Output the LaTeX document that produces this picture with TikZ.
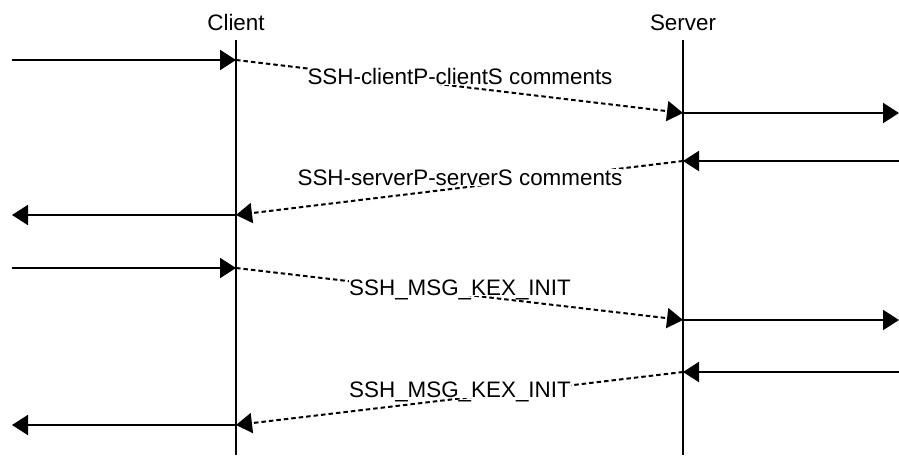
\documentclass[tikz,border=0pt]{standalone}
\usepackage{fontspec}
\setmainfont{Liberation Sans}
\usetikzlibrary{arrows.meta}
\tikzset{
  lbl/.style={inner sep=0pt, anchor=base, font=\fontsize{22.4}{26}\selectfont},
  msglbl/.style={lbl, fill=white, text depth=1pt},
  life/.style={line width=1.5pt, black},
  msg/.style={line width=2pt, -{Triangle[length=16pt,width=20pt]}},
  dsh/.style={line width=2pt, dash pattern=on 4.5pt off 3pt, -{Triangle[length=16pt,width=20pt]}}
}
\begin{document}
\begin{tikzpicture}[x=1pt,y=-1pt]
\useasboundingbox (0,0) rectangle (899,455);
% headers
\node[lbl] (client) at (236,30) {Client};
\node[lbl] (server) at (683,30) {Server};
% lifelines
\coordinate (ctop) at (236,40); \coordinate (cbot) at (236,455);
\coordinate (stop) at (683,40); \coordinate (sbot) at (683,455);
\draw[life] (ctop) -- (cbot);
\draw[life] (stop) -- (sbot);
% message 1
\coordinate (l1) at (12,60);  \coordinate (c1) at (236,60);
\coordinate (s1) at (683,113); \coordinate (r1) at (899,113);
\draw[msg] (l1) -- (c1);
\draw[dsh] (c1) -- (s1);
\draw[msg] (s1) -- (r1);
\node[msglbl] (t1) at (460,84) {SSH-clientP-clientS comments};
% message 2
\coordinate (r2) at (899,161); \coordinate (s2) at (683,161);
\coordinate (c2) at (236,215); \coordinate (l2) at (12,215);
\draw[msg] (r2) -- (s2);
\draw[dsh] (s2) -- (c2);
\draw[msg] (c2) -- (l2);
\node[msglbl] (t2) at (460,185) {SSH-serverP-serverS comments};
% message 3
\coordinate (l3) at (12,268);  \coordinate (c3) at (236,268);
\coordinate (s3) at (683,320); \coordinate (r3) at (899,320);
\draw[msg] (l3) -- (c3);
\draw[dsh] (c3) -- (s3);
\draw[msg] (s3) -- (r3);
\node[msglbl] (t3) at (460,295) {SSH\_MSG\_KEX\_INIT};
% message 4
\coordinate (r4) at (899,372); \coordinate (s4) at (683,372);
\coordinate (c4) at (236,425); \coordinate (l4) at (12,425);
\draw[msg] (r4) -- (s4);
\draw[dsh] (s4) -- (c4);
\draw[msg] (c4) -- (l4);
\node[msglbl] (t4) at (460,397) {SSH\_MSG\_KEX\_INIT};
\end{tikzpicture}
\end{document}
